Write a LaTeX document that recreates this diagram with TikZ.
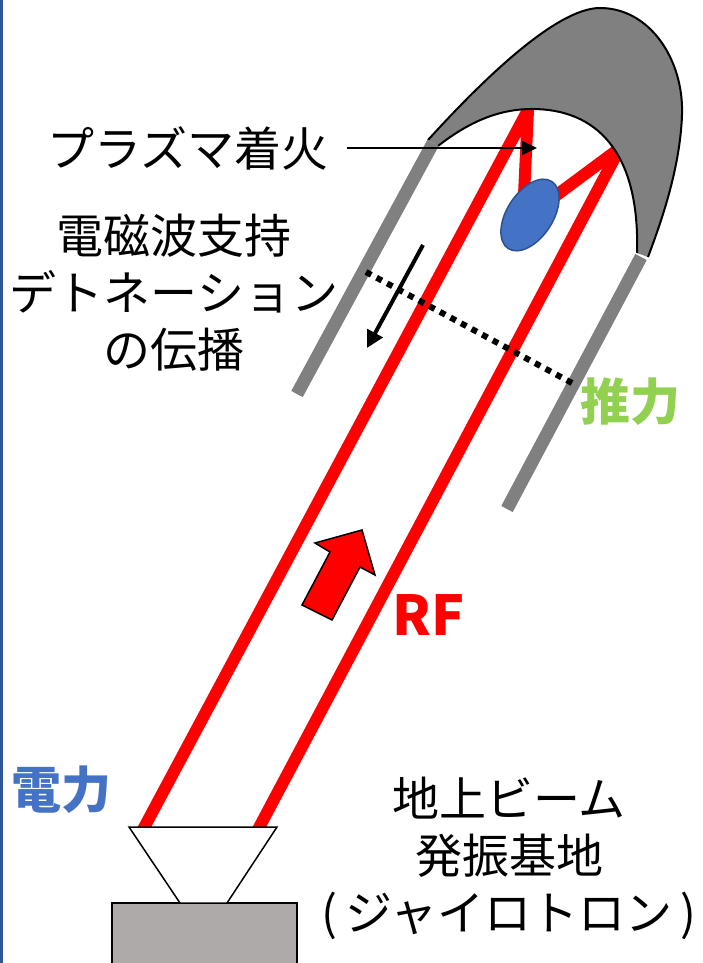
\documentclass[tikz,border=0pt]{standalone}
\usepackage{fontspec}
\setmainfont{Noto Sans CJK JP}
\usetikzlibrary{arrows.meta}
\definecolor{rodgray}{RGB}{128,128,128}
\definecolor{basegray}{RGB}{174,170,170}
\definecolor{plasmablue}{RGB}{68,114,196}
\definecolor{plasmaedge}{RGB}{47,82,143}
\definecolor{thrustgreen}{RGB}{146,208,80}
\definecolor{edgeblue}{RGB}{47,85,151}
\tikzset{
  jtext/.style={font=\fontsize{47}{57}\selectfont,align=center,inner sep=0pt},
  btext/.style={font=\fontsize{50}{60}\selectfont\bfseries,inner sep=0pt},
  rod/.style={line width=13pt,draw=rodgray},
  beam/.style={line width=12pt,draw=red,line join=round}
}
\begin{document}
\begin{tikzpicture}[x=1pt,y=-1pt]
  \useasboundingbox (0,0) rectangle (702,963);
  \draw[line width=3pt,edgeblue] (1.5,0) -- (1.5,963);
  % RF beam, reflected in the nozzle
  \draw[beam] (141.7,832) -- (528,110) -- (524,195);
  \draw[beam] (550,200) -- (620,148) -- (256.7,832);
  % reflector
  \fill[rodgray] (428,140) .. controls (478,85) and (555,8) .. (600,8)
    .. controls (650,8) and (684,60) .. (682,115)
    .. controls (680,170) and (660,225) .. (648,257) -- (637,253)
    .. controls (640,150) and (595,109) .. (532,109)
    .. controls (500,109) and (470,121) .. (438,146) -- cycle;
  \draw[line width=2pt] (428,140) .. controls (478,85) and (555,8) .. (600,8)
    .. controls (650,8) and (684,60) .. (682,115)
    .. controls (680,170) and (660,225) .. (648,257);
  \draw[line width=2pt] (438,146) .. controls (470,121) and (500,109) .. (532,109)
    .. controls (595,109) and (640,150) .. (637,253);
  \draw[rod] (433,143) -- (297,394);
  \draw[rod] (641,257) -- (507,509);
  % plasma
  \draw[line width=1.5pt,draw=plasmaedge,fill=plasmablue,shift={(530,215)},rotate=57]
    (0,0) ellipse (40 and 23);
  % detonation front
  \draw[line width=6pt,dash pattern=on 6pt off 6pt] (366,272) -- (572,383);
  \coordinate (wavetail) at (423,245);
  \coordinate (wavehead) at (367,348);
  \draw[line width=4pt,-{Triangle[length=17pt,width=17pt]}] (wavetail) -- (wavehead);
  % power arrow
  \draw[line width=1.5pt,fill=red,line join=miter] (362,530) -- (375,575) -- (360,567)
    -- (332,620) -- (302,605) -- (330,552) -- (315,543) -- cycle;
  % ground station
  \draw[line width=1.5pt,fill=basegray] (112,903) rectangle (297,975);
  \draw[line width=1.5pt,fill=white] (129,827) -- (277,827) -- (227,903) -- (180,903) -- cycle;
  % labels
  \node[jtext] (ignite) at (188,148) {プラズマ着火};
  \coordinate (spark) at (537,153);
  \draw[line width=2pt,-{Triangle[length=15pt,width=14pt]}] ([xshift=18pt]ignite.east) -- (ignite.east -| spark);
  \node[jtext] (deton) at (174,293) {電磁波支持\\デトネーション\\の伝播};
  \node[jtext] (station) at (509,858) {地上ビーム\\発振基地\\(\hspace{8pt}ジャイロトロン\hspace{8pt})};
  \node[btext,text=thrustgreen] (thrust) at (630,402) {推力};
  \node[btext,text=plasmablue] (power) at (62,790) {電力};
  \node[font=\fontsize{55}{60}\selectfont\bfseries,text=red,inner sep=0pt] (rf) at (429,615) {RF};
\end{tikzpicture}
\end{document}
